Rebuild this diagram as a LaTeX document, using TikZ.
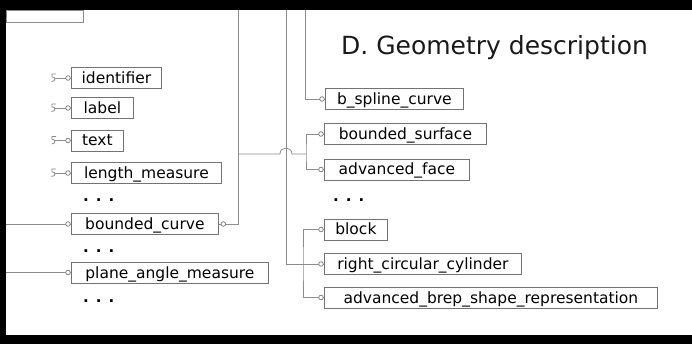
\documentclass[tikz,border=0pt]{standalone}
\usepackage{fontspec}
\setmainfont{DejaVu Sans}
\begin{document}
\begin{tikzpicture}[x=1pt,y=-1pt,
  conn/.style={draw=black!45, line width=0.8pt},
  pin/.style={draw=black!50, line width=0.8pt, fill=white},
  framebar/.style={fill=black, draw=none},
  box/.style={draw=black!55, line width=0.8pt, anchor=west, inner xsep=0pt, inner ysep=0pt,
    text height=16pt, text depth=5pt, text=black, font=\fontsize{15.5}{18}\selectfont},
  dotsrow/.style={anchor=base west, inner sep=0pt, text=black, font=\bfseries\fontsize{15}{18}\selectfont},
  title/.style={anchor=base west, inner sep=0pt, text=black!90, font=\fontsize{25}{28}\selectfont}]
\useasboundingbox (0,0) rectangle (692,344);
% frame
\path[framebar] (0,0) rectangle (692,10);
\path[framebar] (0,0) rectangle (6,344);
\path[framebar] (0,335) rectangle (692,344);
\draw[conn] (6,10) rectangle (83,22);

\node[title] (ttl) at (341,55) {D. Geometry description};

% left column
\node[box, minimum width=90pt]  (identifier) at (71,78) {identifier};
\node[box, minimum width=62pt]  (label) at (71,108) {label};
\node[box, minimum width=52pt]  (text) at (71,140.5) {text};
\node[box, minimum width=150pt] (length) at (71,173) {length\_measure};
\node[dotsrow] (d1) at (83,202) {. . .};
\node[box, minimum width=147pt] (bcurve) at (71,224) {bounded\_curve};
\node[dotsrow] (d2) at (83,252) {. . .};
\node[box, minimum width=197pt] (plane) at (71,272.5) {plane\_angle\_measure};
\node[dotsrow] (d3) at (83,302) {. . .};

% right column
\node[box, minimum width=138pt] (bspline) at (325,99) {b\_spline\_curve};
\node[box, minimum width=162pt] (bsurf) at (324,134) {bounded\_surface};
\node[box, minimum width=145pt] (aface) at (324,169.5) {advanced\_face};
\node[dotsrow] (d4) at (333,202) {. . .};
\node[box, minimum width=63pt]  (block) at (324,229.5) {block};
\node[box, minimum width=197pt] (rcc) at (324,264) {right\_circular\_cylinder};
\node[box, minimum width=333pt] (abrep) at (324,297.5) {advanced\_brep\_shape\_representation};

% coordinates
\coordinate (topA) at (238,10);
\coordinate (topB) at (286,10);
\coordinate (topC) at (305,10);
\coordinate (leftA) at (6,224);
\coordinate (leftB) at (6,272.5);
\coordinate (sj) at (306,154);
\coordinate (aj) at (238,154);
\coordinate (kj) at (303,264);

% simple-type pins on the left
\foreach \n/\c in {identifier/78,label/108,text/140.5,length/173}{
  \coordinate (s\n) at (55,\c);
  \draw[conn] (s\n) -- (\n.west);
  \draw[conn] (56,\c-4) -- (52,\c-4) -- (52,\c-1) .. controls (55.5,\c-2) and (56.5,\c+3.5) .. (51.5,\c+3.5);
  \draw[pin] ([xshift=-3pt]\n.west) circle (2.3pt);
}

% left connectors
\draw[conn] (leftA) -- (bcurve.west);
\draw[pin] ([xshift=-3pt]bcurve.west) circle (2.3pt);
\draw[conn] (leftB) -- (plane.west);
\draw[pin] ([xshift=-3pt]plane.west) circle (2.3pt);

% bounded_curve to its column
\draw[conn] (bcurve.east) -| (topA);
\draw[pin] ([xshift=4.5pt]bcurve.east) circle (2.3pt);

% b_spline_curve
\draw[conn] (topC) |- (bspline.west);
\draw[pin] ([xshift=-3pt]bspline.west) circle (2.3pt);

% surface bracket with hop
\draw[conn] (bsurf.west) -| (sj) |- (aface.west);
\draw[conn] (aj) -- (280,154) .. controls (280,146) and (292,146) .. (292,154) -- (sj);
\draw[pin] ([xshift=-3pt]bsurf.west) circle (2.3pt);
\draw[pin] ([xshift=-3pt]aface.west) circle (2.3pt);

% solid bracket
\draw[conn] (block.west) -| (kj) |- (abrep.west);
\draw[conn] (kj) -- (rcc.west);
\draw[conn] (topB) |- (kj);
\draw[pin] ([xshift=-3pt]block.west) circle (2.3pt);
\draw[pin] ([xshift=-3pt]rcc.west) circle (2.3pt);
\draw[pin] ([xshift=-3pt]abrep.west) circle (2.3pt);
\end{tikzpicture}
\end{document}
